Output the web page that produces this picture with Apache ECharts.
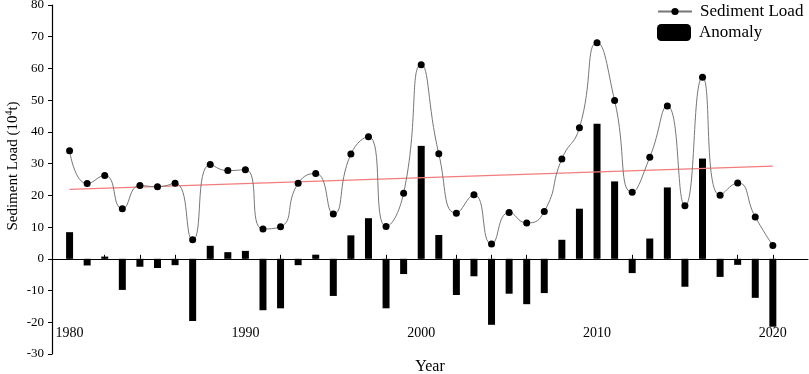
<!DOCTYPE html>
<html>
<head>
<meta charset="utf-8">
<script src="https://cdn.jsdelivr.net/npm/echarts@6/dist/echarts.min.js"></script>
<style>
  html, body { margin: 0; padding: 0; background: #fff; }
  #chart { width: 809px; height: 374px; }
</style>
</head>
<body>
<div id="chart"></div>
<script>
// years and sediment load (10^4 t)
const years = [1980, 1981, 1982, 1983, 1984, 1985, 1986, 1987, 1988, 1989,
  1990, 1991, 1992, 1993, 1994, 1995, 1996, 1997, 1998, 1999,
  2000, 2001, 2002, 2003, 2004, 2005, 2006, 2007, 2008, 2009,
  2010, 2011, 2012, 2013, 2014, 2015, 2016, 2017, 2018, 2019, 2020]
const sedimentLoad = [34.1, 23.7, 26.3, 15.8, 23.1, 22.7, 23.8, 6.0, 29.7, 27.8,
  28.1, 9.4, 10.1, 23.8, 26.9, 14.1, 33.0, 38.5, 10.2, 20.7,
  61.2, 33.1, 14.4, 20.2, 4.7, 14.6, 11.3, 14.9, 31.5, 41.3,
  68.1, 49.9, 21.0, 32.0, 48.2, 16.7, 57.2, 20.0, 23.9, 13.2, 4.2]
const anomaly = [8.4, -2.1, 0.7, -9.8, -2.5, -2.9, -2.0, -19.6, 4.1, 2.1,
  2.5, -16.2, -15.6, -2.0, 1.3, -11.7, 7.4, 12.8, -15.6, -4.8,
  35.6, 7.5, -11.4, -5.5, -20.8, -11.0, -14.3, -10.8, 6.0, 15.8,
  42.6, 24.4, -4.5, 6.4, 22.5, -8.8, 31.6, -5.7, -1.9, -12.3, -21.4]
// linear trend end points
const trendYears = [1980, 2020]
const trendValues = [21.9, 29.2]

const xTicks = [1980, 1982, 1984, 1986, 1988, 1990, 1992, 1994, 1996, 1998, 2000,
  2002, 2004, 2006, 2008, 2010, 2012, 2014, 2016, 2018, 2020]
const xLabels = [1980, 1990, 2000, 2010, 2020]

const FONT = 'Liberation Serif'

var dom = document.getElementById('chart')
var myChart = echarts.init(dom, null, { renderer: 'canvas' })

option = {
  animation: false,
  backgroundColor: '#fff',
  grid: { left: 52, right: 1, top: 5, bottom: 20, containLabel: false, outerBoundsMode: 'none' },
  legend: [{
    orient: 'vertical',
    left: 652,
    top: -2,
    itemWidth: 34,
    itemHeight: 9,
    data: ['Sediment Load'],
    textStyle: { fontFamily: FONT, fontSize: 17, color: '#000', padding: [0, 0, 0, 3] }
  }, {
    orient: 'vertical',
    left: 652,
    top: 19,
    itemWidth: 34,
    itemHeight: 17,
    data: ['Anomaly'],
    textStyle: { fontFamily: FONT, fontSize: 17, color: '#000', padding: [0, 0, 0, 3] }
  }],
  xAxis: {
    type: 'value',
    min: 1979,
    max: 2022,
    name: 'Year',
    nameLocation: 'middle',
    nameGap: 5,
    nameTextStyle: { fontFamily: FONT, fontSize: 16, color: '#000' },
    axisLine: { onZero: true, lineStyle: { color: '#000', width: 1 } },
    axisTick: { inside: true, length: 4, customValues: xTicks, lineStyle: { color: '#000' } },
    axisLabel: {
      customValues: xLabels,
      margin: -28,
      fontFamily: FONT,
      fontSize: 14,
      color: '#000',
      formatter: v => String(v)
    },
    splitLine: { show: false }
  },
  yAxis: {
    type: 'value',
    min: -30,
    max: 80,
    interval: 10,
    axisLine: { show: true, onZero: false, lineStyle: { color: '#000', width: 1.2 } },
    axisTick: { show: true, inside: false, length: 4, lineStyle: { color: '#000' } },
    axisLabel: { fontFamily: FONT, fontSize: 13, color: '#000', margin: 8 },
    splitLine: { show: false }
  },
  graphic: [{
    type: 'text',
    x: 12,
    y: 166,
    rotation: Math.PI / 2,
    style: {
      text: '{a|Sediment Load (10}{s|4}{a|t)}',
      align: 'center',
      verticalAlign: 'middle',
      fill: '#000',
      rich: {
        a: { fontFamily: FONT, fontSize: 15, fill: '#000', lineHeight: 18, verticalAlign: 'bottom' },
        s: { fontFamily: FONT, fontSize: 10, fill: '#000', lineHeight: 18, verticalAlign: 'bottom', padding: [0, 0, 7, 0] }
      }
    }
  }],
  series: [{
    name: 'Anomaly',
    type: 'bar',
    barWidth: 7,
    itemStyle: { color: '#000' },
    data: years.map((y, i) => [y, anomaly[i]])
  }, {
    name: 'Sediment Load',
    type: 'line',
    smooth: 0.55,
    symbol: 'circle',
    symbolSize: 7,
    lineStyle: { color: '#777', width: 1 },
    itemStyle: { color: '#000' },
    data: years.map((y, i) => [y, sedimentLoad[i]]),
    z: 3
  }, {
    name: 'trend',
    type: 'line',
    symbol: 'none',
    lineStyle: { color: '#f47c7c', width: 1.2 },
    data: trendYears.map((y, i) => [y, trendValues[i]]),
    z: 2
  }]
}

myChart.setOption(option, true)
</script>
</body>
</html>
